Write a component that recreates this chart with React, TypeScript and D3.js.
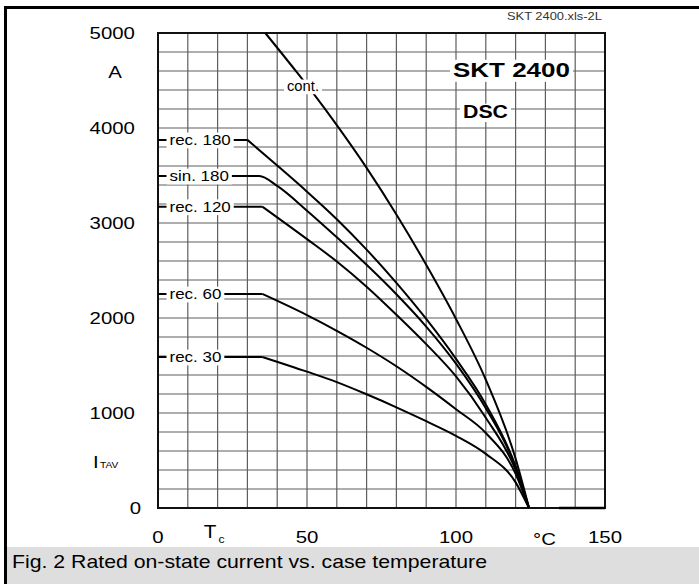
import React, { useEffect, useRef } from 'react';
import * as d3 from 'd3';

const W = 699;
const H = 584;

// Axis ticks
const xTickValues = [0, 50, 100, 150];
const yTickValues = [0, 1000, 2000, 3000, 4000, 5000];

// Series: case temperature Tc (°C) and rated current I_TAV (A)
const contT = [36, 46.5, 52.7, 60, 70, 80, 90, 100, 110, 120, 124.5];
const contI = [5000, 4590, 4340, 4030, 3580, 3090, 2560, 1990, 1350, 520, 0];

const rec180T = [0, 30, 40, 50, 60, 70, 80, 90, 100, 110, 120, 124.5];
const rec180I = [3875, 3875, 3605, 3330, 3040, 2720, 2370, 1990, 1570, 1090, 440, 0];

const sin180T = [0, 34, 40, 50, 60, 70, 80, 90, 100, 110, 120, 124.5];
const sin180I = [3495, 3495, 3390, 3130, 2850, 2560, 2250, 1910, 1520, 1050, 430, 0];

const rec120T = [0, 35, 50, 60, 70, 80, 90, 100, 110, 120, 124.5];
const rec120I = [3172, 3172, 2830, 2595, 2330, 2035, 1725, 1385, 950, 400, 0];

const rec60T = [0, 35, 50, 60, 70, 80, 90, 100, 110, 120, 124.5];
const rec60I = [2253, 2253, 2030, 1865, 1687, 1492, 1275, 1040, 790, 360, 0];

const rec30T = [0, 35, 50, 60, 70, 80, 90, 100, 110, 120, 124.5];
const rec30I = [1590, 1590, 1435, 1325, 1197, 1060, 914, 760, 570, 270, 0];

const tailT = [134.6, 150];
const tailI = [0, 0];

const seriesLabels = ['rec. 180', 'sin. 180', 'rec. 120', 'rec. 60', 'rec. 30'];

const FONT = '"Liberation Sans", Arial, Helvetica, sans-serif';

export default function App() {
  const ref = useRef<SVGSVGElement>(null);

  useEffect(() => {
    const svg = d3.select(ref.current as SVGSVGElement);
    svg.selectAll('*').remove();

    const x = d3.scaleLinear().domain([0, 150]).range([158, 605]);
    const y = d3.scaleLinear().domain([0, 5000]).range([508, 33]);

    const addText = (
      parent: any,
      str: string,
      px: number,
      py: number,
      o: { size?: number; weight?: string; anchor?: string; width?: number; sx?: number; fill?: string; bg?: boolean; padX?: number } = {}
    ) => {
      const size = o.size ?? 17;
      const grp = parent.append('g');
      const t = grp
        .append('text')
        .text(str)
        .attr('font-size', size)
        .attr('font-weight', o.weight ?? 'normal')
        .attr('font-family', FONT)
        .attr('fill', o.fill ?? '#000');
      const natural = (t.node() as SVGTextElement).getComputedTextLength() || 1;
      const s = o.width ? o.width / natural : o.sx ?? 1.2;
      const w = natural * s;
      const anchor = o.anchor ?? 'start';
      const left = anchor === 'start' ? px : anchor === 'end' ? px - w : px - w / 2;
      t.attr('transform', `translate(${left},${py}) scale(${s},1)`);
      if (o.bg) {
        const padX = o.padX ?? 3;
        grp
          .insert('rect', 'text')
          .attr('x', left - padX)
          .attr('y', py - size * 0.82)
          .attr('width', w + 2 * padX)
          .attr('height', size * 1.05)
          .attr('fill', '#fff');
      }
    };

    svg.append('rect').attr('width', W).attr('height', H).attr('fill', '#fff');

    // caption band
    svg.append('rect').attr('x', 7).attr('y', 547).attr('width', W - 7).attr('height', H - 547).attr('fill', '#dedede');
    // frame
    svg.append('rect').attr('x', 4).attr('y', 6).attr('width', 3).attr('height', H - 6).attr('fill', '#000');
    svg.append('rect').attr('x', 4).attr('y', 6).attr('width', W - 4).attr('height', 3).attr('fill', '#000');

    // grid
    const grid = svg.append('g').attr('stroke', '#5e5e5e').attr('stroke-width', 1.2);
    x.ticks(15).filter((t) => t > 0 && t < 150).forEach((t) => {
      grid.append('line').attr('x1', x(t)).attr('x2', x(t)).attr('y1', y(0)).attr('y2', y(5000));
    });
    y.ticks(25).filter((v) => v > 0 && v < 5000).forEach((v) => {
      grid.append('line').attr('x1', x(0)).attr('x2', x(150)).attr('y1', y(v)).attr('y2', y(v));
    });

    // plot border
    svg
      .append('rect')
      .attr('x', x(0))
      .attr('y', y(5000))
      .attr('width', x(150) - x(0))
      .attr('height', y(0) - y(5000))
      .attr('fill', 'none')
      .attr('stroke', '#111')
      .attr('stroke-width', 2);

    const toPts = (T: number[], I: number[]) => T.map((t, i) => [t, I[i]] as [number, number]);
    const lineLin = d3.line<[number, number]>().x((d) => x(d[0])).y((d) => y(d[1]));
    const lineMono = d3
      .line<[number, number]>()
      .x((d) => x(d[0]))
      .y((d) => y(d[1]))
      .curve(d3.curveMonotoneX);

    const curves = svg
      .append('g')
      .attr('fill', 'none')
      .attr('stroke', '#000')
      .attr('stroke-width', 2)
      .attr('stroke-linejoin', 'round');

    const drawSharp = (T: number[], I: number[]) => {
      const pts = toPts(T, I);
      let k = 0;
      while (k + 1 < pts.length && pts[k + 1][1] === pts[0][1]) k++;
      curves.append('path').attr('d', lineLin(pts.slice(0, k + 1)));
      curves.append('path').attr('d', lineMono(pts.slice(k)));
    };

    curves.append('path').attr('d', lineMono(toPts(contT, contI)));
    drawSharp(rec180T, rec180I);
    curves.append('path').attr('d', lineMono(toPts(sin180T, sin180I)));
    drawSharp(rec120T, rec120I);
    drawSharp(rec60T, rec60I);
    drawSharp(rec30T, rec30I);
    curves.append('path').attr('d', lineLin(toPts(tailT, tailI))).attr('stroke-width', 2.5);

    // series labels
    const labelLevels = [rec180I[0], sin180I[0], rec120I[0], rec60I[0], rec30I[0]];
    seriesLabels.forEach((s, i) => {
      addText(svg, s, 169.5, y(labelLevels[i]) + 5, { size: 15, sx: 1.13, bg: true, padX: 3 });
    });
    addText(svg, 'cont.', 287, 91, { size: 14, width: 32, bg: true, padX: 3 });

    addText(svg, 'SKT 2400', 453, 77, { size: 21, weight: 'bold', width: 117, bg: true, padX: 3 });
    addText(svg, 'DSC', 463, 118, { size: 17.5, weight: 'bold', width: 45, bg: true, padX: 3 });

    addText(svg, 'SKT 2400.xls-2L', 602, 20, { size: 10, anchor: 'end', width: 95, fill: '#333' });

    // y tick labels
    yTickValues.forEach((v) => {
      addText(svg, String(v), v === 0 ? 141 : 135, y(v) + 6, { size: 17, anchor: 'end', sx: 1.2 });
    });
    // x tick labels
    xTickValues.forEach((t) => {
      addText(svg, String(t), x(t), 543, { size: 17, anchor: 'middle', sx: 1.2 });
    });

    addText(svg, 'A', 115, 78, { size: 17, anchor: 'middle', sx: 1.2 });
    addText(svg, 'I', 93, 468, { size: 17, sx: 1.2 });
    addText(svg, 'TAV', 100, 468, { size: 8.5, sx: 1.2 });
    addText(svg, 'T', 210, 538, { size: 18, anchor: 'middle', sx: 1.15 });
    addText(svg, 'c', 218.5, 543, { size: 11, sx: 1.1 });
    addText(svg, '°C', 533, 545, { size: 17, sx: 1.2 });

    addText(svg, 'Fig. 2 Rated on-state current vs. case temperature', 12, 568, { size: 17.5, width: 475 });
  }, []);

  return (
    <svg
      ref={ref}
      width={W}
      height={H}
      viewBox={`0 0 ${W} ${H}`}
      style={{ position: 'absolute', left: 0, top: 0, display: 'block' }}
    />
  );
}
